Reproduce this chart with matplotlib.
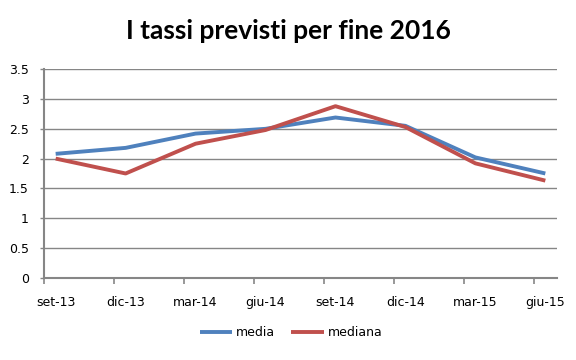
import matplotlib.pyplot as plt
import numpy as np

# dati trimestrali
mesi = ['set-13', 'dic-13', 'mar-14', 'giu-14', 'set-14', 'dic-14', 'mar-15', 'giu-15']
media = [2.08, 2.18, 2.42, 2.50, 2.69, 2.55, 2.02, 1.75]
mediana = [2.00, 1.75, 2.25, 2.48, 2.88, 2.53, 1.92, 1.63]

blu = '#4F81BD'
rosso = '#C0504D'
grigio = '#868686'

fig = plt.figure(figsize=(5.76, 3.6), dpi=100)
ax = fig.add_axes([0.0764, 0.2286, 0.8906, 0.579])

x = np.arange(len(mesi)) * 3
ax.plot(x, media, color=blu, lw=2.8, label='media', solid_capstyle='butt')
ax.plot(x, mediana, color=rosso, lw=2.8, label='mediana', solid_capstyle='butt')

ax.set_xlim(-0.5, x[-1] + 0.5)
ax.set_ylim(0, 3.5)
ax.set_yticks(np.arange(0, 3.51, 0.5))
ax.set_yticklabels(['0', '0.5', '1', '1.5', '2', '2.5', '3', '3.5'])
ax.set_xticks(x)
ax.set_xticklabels(mesi)
ax.set_xticks(np.arange(-0.5, x[-1], 3), minor=True)

ax.grid(axis='y', color=grigio, lw=1)
ax.set_axisbelow(True)
for s in ['top', 'right']:
    ax.spines[s].set_visible(False)
for s in ['left', 'bottom']:
    ax.spines[s].set_color(grigio)
    ax.spines[s].set_linewidth(1.5)

ax.tick_params(axis='x', which='major', length=0, pad=13, labelsize=9)
ax.tick_params(axis='x', which='minor', length=4.5, color=grigio, width=1.2)
ax.tick_params(axis='y', length=3, color=grigio, width=1, pad=8, labelsize=9)

fig.text(0.5, 0.913, 'I tassi previsti per fine 2016', ha='center', va='center',
         fontsize=19, fontweight='bold', family='Lato')

fig.legend(loc='center', bbox_to_anchor=(0.505, 0.075), ncol=2, frameon=False,
           fontsize=9, handlelength=2.6, handletextpad=0.3, columnspacing=1.3)

fig.savefig('out.png', dpi=100)
